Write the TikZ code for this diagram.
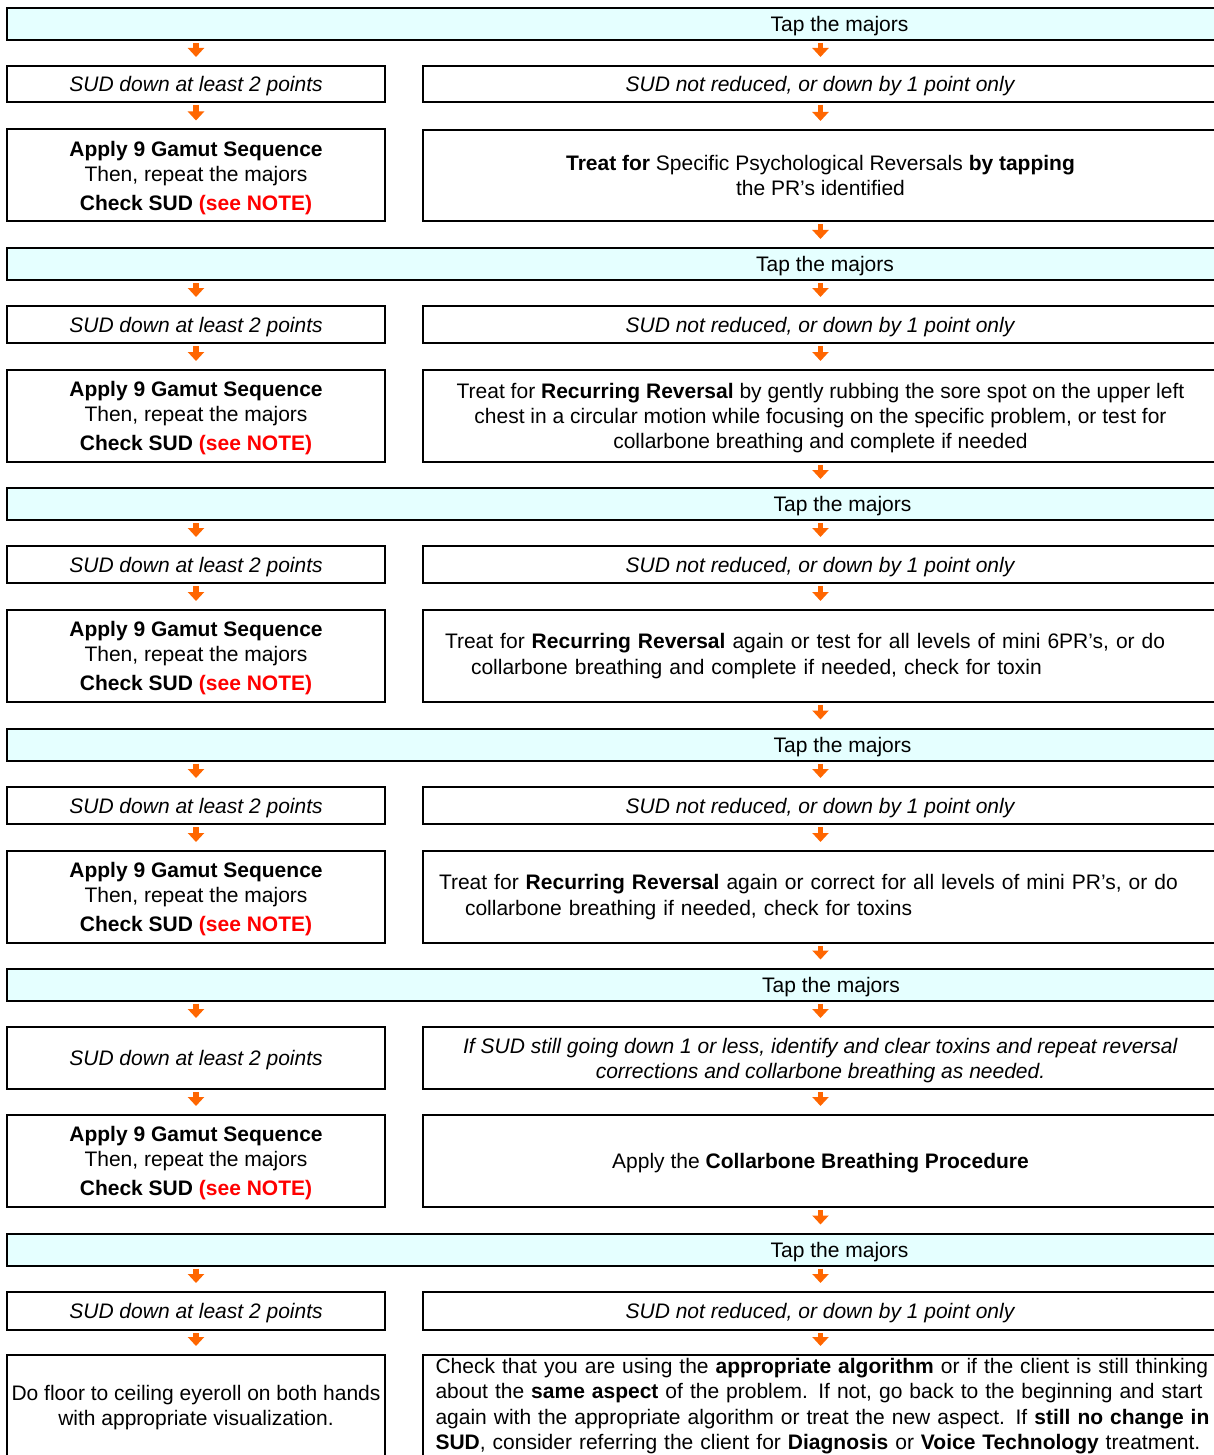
\documentclass[tikz,border=0pt]{standalone}
\usepackage{fontspec}
\setmainfont{Liberation Sans}
\usetikzlibrary{arrows.meta}
\definecolor{barcyan}{RGB}{229,255,255}
\definecolor{arrorange}{RGB}{255,102,0}
\definecolor{notered}{RGB}{255,0,0}
\newcommand{\sudgood}{\textit{SUD down at least 2 points}}
\newcommand{\sudbad}{\textit{SUD not reduced, or down by 1 point only}}
\newcommand{\applytext}{\textbf{Apply 9 Gamut Sequence}\\Then, repeat the majors\\[1.8pt]\textbf{Check SUD \textcolor{notered}{(see NOTE)}}}
\begin{document}
\begin{tikzpicture}
[
    x=0.5pt, y=-0.5pt,
    font=\fontsize{10.5}{12.6}\selectfont,
    box/.style={draw, line width=1pt, inner sep=0pt, align=center, text depth=0pt},
    lbox/.style={box, minimum width=189pt},
    rbox/.style={box, minimum width=397.5pt},
    parbox/.style={rbox, align=left, text depth={}},
    bar/.style={box, fill=barcyan, minimum width=605.5pt, minimum height=16pt},
    taptext/.style={text depth=0pt},
    flow/.style={line width=2.6pt, draw=arrorange, -{Triangle[width=8pt,length=4.5pt]}, shorten <=1pt, shorten >=4pt},
]
\path[use as bounding box, clip] (0,0) rectangle (1214,1455);

\foreach \i/\yt/\xt in {1/24/839.5, 2/264/825, 3/504/842.5, 4/744.5/842.5, 5/984.5/831, 6/1249.5/839.5}
{
    \node[bar] (tap\i) at (612.5,\yt) {};
    \node[taptext] (taptx\i) at (\xt,\yt) {Tap the majors};
}

% left column
\foreach \i/\ys/\hs/\yg in {1/84/18pt/175.5, 2/324.5/18.5pt/416, 3/564.5/18.5pt/656, 4/805.5/18.5pt/897, 5/1058/31pt/1161}
{
    \node[lbox, minimum height=\hs] (sudl\i) at (196,\ys) {\sudgood};
    \node[lbox, minimum height=46pt] (gam\i) at (196,\yg) {\applytext};
    \draw[flow] (tap\i.south -| sudl\i.north) -- (sudl\i.north);
    \draw[flow] (sudl\i) -- (gam\i);
}
\node[lbox, minimum height=19pt] (sudl6) at (196,1311) {\sudgood};
\node[lbox, minimum height=50.5pt] (eyeroll) at (196,1405.5)
    {Do floor to ceiling eyeroll on both hands\\with appropriate visualization.};
\draw[flow] (tap6.south -| sudl6.north) -- (sudl6.north);
\draw[flow] (sudl6) -- (eyeroll);

% right column
\node[rbox, minimum height=18pt] (sudr1) at (820.5,84) {\sudbad};
\node[rbox, minimum height=45.5pt] (treat1) at (820.5,175.5)
    {\textbf{Treat for} Specific Psychological Reversals \textbf{by tapping}\\the PR’s identified};
\node[rbox, minimum height=18.5pt] (sudr2) at (820.5,324.5) {\sudbad};
\node[rbox, minimum height=46pt] (treat2) at (820.5,416)
    {Treat for \textbf{Recurring Reversal} by gently rubbing the sore spot on the upper left\\
     chest in a circular motion while focusing on the specific problem, or test for\\
     collarbone breathing and complete if needed};
\node[rbox, minimum height=18.5pt] (sudr3) at (820.5,564.5) {\sudbad};
\node[parbox, minimum height=46pt, text width=375.5pt, inner xsep=11pt] (treat3) at (820.5,656)
    {Treat for \textbf{Recurring Reversal} again or test for all levels of mini 6PR’s, or do\\
     \hspace*{13pt}collarbone breathing and complete if needed, check for toxin};
\node[rbox, minimum height=18.5pt] (sudr4) at (820.5,805.5) {\sudbad};
\node[parbox, minimum height=46pt, text width=381.5pt, inner xsep=8pt] (treat4) at (820.5,897)
    {Treat for \textbf{Recurring Reversal} again or correct for all levels of mini PR’s, or do\\
     \hspace*{13pt}collarbone breathing if needed, check for toxins};
\node[rbox, minimum height=31pt] (sudr5) at (820.5,1058)
    {\textit{If SUD still going down 1 or less, identify and clear toxins and repeat reversal}\\
     \textit{corrections and collarbone breathing as needed.}};
\node[rbox, minimum height=46pt] (treat5) at (820.5,1161)
    {Apply the \textbf{Collarbone Breathing Procedure}};
\node[rbox, minimum height=19pt] (sudr6) at (820.5,1311) {\sudbad};
\node[parbox, minimum height=51pt, text width=385pt, inner xsep=6.5pt] (algo) at (820.5,1406)
    {\makebox[385pt][s]{Check that you are using the \textbf{appropriate algorithm} or if the client is still thinking}\\
     \makebox[385pt][s]{about the \textbf{same aspect} of the problem. If not, go back to the beginning and start}\\
     \makebox[385pt][s]{again with the appropriate algorithm or treat the new aspect. If \textbf{still no change in}}\\
     \textbf{SUD}, consider referring the client for \textbf{Diagnosis} or \textbf{Voice Technology} treatment.};

\foreach \i in {1,...,6}
    \draw[flow] (tap\i.south -| sudr\i.north) -- (sudr\i.north);
\foreach \i in {1,...,5}
{
    \draw[flow] (sudr\i) -- (treat\i);
    \pgfmathtruncatemacro\nxt{\i+1}
    \draw[flow] (treat\i) -- (treat\i.south |- tap\nxt.north);
}
\draw[flow] (sudr6) -- (algo);
\end{tikzpicture}
\end{document}
